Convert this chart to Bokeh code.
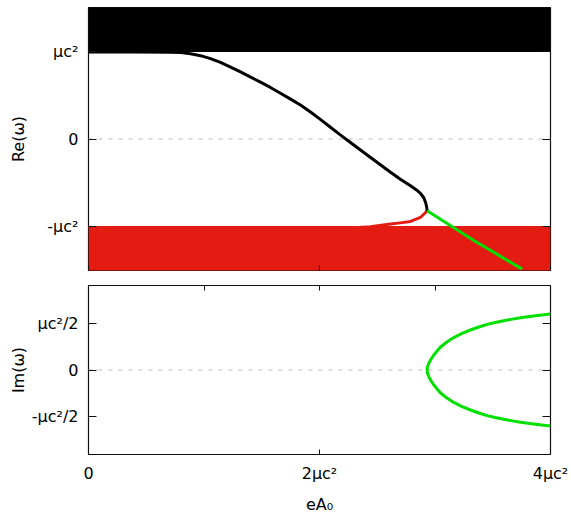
from bokeh.plotting import figure
from bokeh.layouts import column
from bokeh.models import FixedTicker, LinearAxis, Span, Range1d
from bokeh.embed import file_html
from bokeh.resources import INLINE

# --- data (units of mu c^2) ---------------------------------------------
# edges of the positive / negative energy continua
upper_continuum = 1.0
lower_continuum = -1.0

# bound state emerging from the upper continuum
ea_black = [0.0, 0.4, 0.7, 0.8, 0.883, 0.97, 1.056, 1.143, 1.23, 1.316, 1.40,
            1.489, 1.575, 1.662, 1.75, 1.835, 1.922, 2.01, 2.095, 2.18, 2.268,
            2.355, 2.442, 2.53, 2.615, 2.70, 2.788, 2.84, 2.874, 2.903, 2.920,
            2.929, 2.932]
re_black = [1.0, 0.999, 0.997, 0.993, 0.978, 0.957, 0.923, 0.88, 0.826, 0.77,
            0.713, 0.653, 0.592, 0.526, 0.458, 0.39, 0.31, 0.223, 0.135, 0.048,
            -0.04, -0.126, -0.212, -0.298, -0.382, -0.462, -0.537, -0.585,
            -0.625, -0.675, -0.735, -0.79, -0.824]

# state leaving the lower continuum
ea_red = [2.3, 2.442, 2.52, 2.615, 2.70, 2.788, 2.874, 2.918, 2.932]
re_red = [-1.02, -1.008, -0.994, -0.977, -0.963, -0.947, -0.901, -0.844, -0.824]

# complex pair after the merger: real part
ea_green = [2.932, 3.336, 3.755]
re_green = [-0.824, -1.165, -1.494]

# complex pair: imaginary part (upper branch, lower branch is its conjugate)
ea_im = [2.932, 2.935, 2.946, 2.961, 2.99, 3.02, 3.048, 3.1, 3.163, 3.23,
         3.307, 3.38, 3.452, 3.52, 3.596, 3.67, 3.74, 3.87, 4.0]
im_up = [0.0, 0.035, 0.07, 0.106, 0.16, 0.205, 0.245, 0.295, 0.345, 0.388,
         0.426, 0.458, 0.486, 0.506, 0.525, 0.542, 0.557, 0.578, 0.596]

x_ticks = [0, 2, 4]
x_tick_labels = ["0", "2μc²", "4μc²"]
re_ticks = [-1, 0, 1]
re_tick_labels = ["-μc²", "0", "μc²"]
im_ticks = [-0.5, 0, 0.5]
im_tick_labels = ["-μc²/2", "0", "μc²/2"]

FONT = "DejaVu Sans"
FS = "16px"
BLACK = "#000000"
RED = "#e31b13"
GREEN = "#00e000"
FRAME = "#111111"


def base_style(p):
    p.outline_line_color = FRAME
    p.outline_line_width = 1.2
    p.grid.visible = False
    p.background_fill_color = "white"
    p.border_fill_color = "white"


def bare_ticks(ax, ticks, length):
    # tick marks only, pointing into the frame, no labels
    ax.ticker = FixedTicker(ticks=ticks)
    ax.major_label_text_color = None
    ax.major_label_text_font_size = "1px"
    ax.major_label_standoff = 0
    ax.major_tick_in = length
    ax.major_tick_out = 0
    ax.minor_tick_line_color = None
    ax.axis_line_color = None
    ax.major_tick_line_color = FRAME


def tick_axis(p, side, ticks, length):
    ax = LinearAxis()
    bare_ticks(ax, ticks, length)
    p.add_layout(ax, side)
    return ax


def label_axis(ax, ticks, labels, length):
    ax.ticker = FixedTicker(ticks=ticks)
    ax.major_label_overrides = {t: l for t, l in zip(ticks, labels)}
    ax.major_label_text_font = FONT
    ax.major_label_text_font_size = FS
    ax.major_label_text_color = BLACK
    ax.axis_label_text_font = FONT
    ax.axis_label_text_font_size = FS
    ax.axis_label_text_font_style = "normal"
    ax.axis_label_text_color = BLACK
    ax.major_tick_in = length
    ax.major_tick_out = 0
    ax.minor_tick_line_color = None
    ax.axis_line_color = None
    ax.major_tick_line_color = FRAME


# --- Re(omega) panel -----------------------------------------------------
p1 = figure(width=571, height=277, output_backend="svg", toolbar_location=None,
            x_range=Range1d(0, 4), y_range=Range1d(-1.51, 1.51),
            min_border_left=88, min_border_right=21,
            min_border_top=7, min_border_bottom=7)
base_style(p1)

p1.quad(left=0, right=4, bottom=upper_continuum, top=3, color=BLACK, line_color=None)
p1.quad(left=0, right=4, bottom=-3, top=lower_continuum, color=RED, line_color=None)
p1.add_layout(Span(location=0, dimension="width", line_color="#bbbbbb",
                   line_dash="4 6", line_width=1, level="underlay"))

p1.line(ea_red, re_red, line_color=RED, line_width=3, line_join="round")
p1.line(ea_black, re_black, line_color=BLACK, line_width=3, line_join="round")
p1.line(ea_green, re_green, line_color=GREEN, line_width=3, line_join="round")

label_axis(p1.yaxis[0], re_ticks, re_tick_labels, 8)
p1.yaxis[0].axis_label = "Re(ω)"
p1.yaxis[0].major_label_standoff = 10
p1.yaxis[0].axis_label_standoff = 16

bare_ticks(p1.xaxis[0], x_ticks, 5)
tick_axis(p1, "right", re_ticks, 8)

# --- Im(omega) panel -----------------------------------------------------
p2 = figure(width=571, height=239, output_backend="svg", toolbar_location=None,
            x_range=Range1d(0, 4), y_range=Range1d(-0.9, 0.9),
            min_border_left=88, min_border_right=21,
            min_border_top=8, min_border_bottom=62)
base_style(p2)

p2.add_layout(Span(location=0, dimension="width", line_color="#bbbbbb",
                   line_dash="4 6", line_width=1, level="underlay"))

im_x = ea_im[::-1] + ea_im[1:]
im_y = im_up[::-1] + [-v for v in im_up[1:]]
p2.line(im_x, im_y, line_color=GREEN, line_width=3, line_join="round")

label_axis(p2.yaxis[0], im_ticks, im_tick_labels, 8)
p2.yaxis[0].axis_label = "Im(ω)"
p2.yaxis[0].major_label_standoff = 10
p2.yaxis[0].axis_label_standoff = 1

label_axis(p2.xaxis[0], x_ticks, x_tick_labels, 5)
p2.xaxis[0].axis_label = "eA₀"
p2.xaxis[0].major_label_standoff = 9
p2.xaxis[0].axis_label_standoff = 9

tick_axis(p2, "right", im_ticks, 8)
tick_axis(p2, "above", [0, 1, 2, 3, 4], 5)

layout = column(p1, p2, spacing=0)
open("out.html", "w").write(file_html(layout, INLINE))
